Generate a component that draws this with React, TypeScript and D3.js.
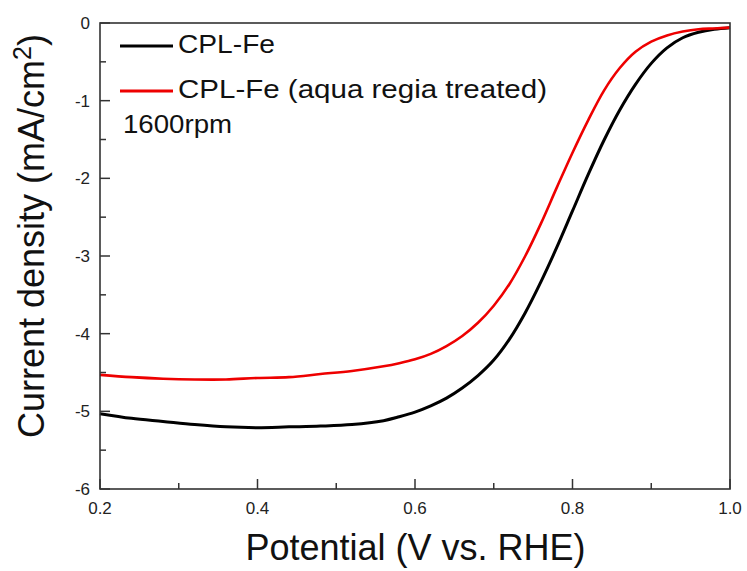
import React from "react";
import * as d3 from "d3";

// potential (V vs. RHE)
const potential = [
  0.2, 0.24, 0.28, 0.32, 0.36, 0.4, 0.44, 0.48, 0.52, 0.56, 0.58, 0.6, 0.62, 0.64, 0.66, 0.68,
  0.7, 0.72, 0.74, 0.76, 0.78, 0.8, 0.82, 0.84, 0.86, 0.88, 0.9, 0.92, 0.94, 0.96, 0.98, 1.0,
];
// CPL-Fe
const cplFe = [
  -5.03, -5.09, -5.13, -5.17, -5.2, -5.21, -5.2, -5.19, -5.17, -5.12, -5.07, -5.01, -4.93, -4.83,
  -4.7, -4.54, -4.34, -4.07, -3.73, -3.33, -2.89, -2.42, -1.95, -1.51, -1.12, -0.79, -0.52, -0.32,
  -0.19, -0.12, -0.08, -0.06,
];
// CPL-Fe (aqua regia treated)
const cplFeTreated = [
  -4.53, -4.56, -4.58, -4.59, -4.59, -4.57, -4.56, -4.52, -4.48, -4.42, -4.38, -4.33, -4.26, -4.16,
  -4.03, -3.86, -3.64, -3.36, -3.0, -2.58, -2.12, -1.67, -1.25, -0.87, -0.58, -0.37, -0.24, -0.16,
  -0.11, -0.08, -0.07, -0.06,
];

const xTicks = [0.2, 0.4, 0.6, 0.8, 1.0];
const xTickLabels = ["0.2", "0.4", "0.6", "0.8", "1.0"];
const xMinor = [0.3, 0.5, 0.7, 0.9];
const yTicks = [0, -1, -2, -3, -4, -5, -6];
const yTickLabels = ["0", "-1", "-2", "-3", "-4", "-5", "-6"];
const yMinor = [-0.5, -1.5, -2.5, -3.5, -4.5, -5.5];

const seriesNames = ["CPL-Fe", "CPL-Fe (aqua regia treated)"];

const W = 747;
const H = 571;
const left = 100, right = 730, top = 23, bottom = 489;
const font = "'Liberation Sans', Arial, sans-serif";
const axisColor = "#333";

export default function App() {
  const x = d3.scaleLinear().domain([0.2, 1.0]).range([left, right]);
  const y = d3.scaleLinear().domain([0, -6]).range([top, bottom]);

  const line = d3
    .line<number>()
    .x((d, i) => x(potential[i]))
    .y((d) => y(d))
    .curve(d3.curveCatmullRom);

  return (
    <svg width={W} height={H} style={{ position: "absolute", left: 0, top: 0, background: "#fff" }} fontFamily={font}>
      {/* curves */}
      <path d={line(cplFe) || ""} fill="none" stroke="#000" strokeWidth={3} />
      <path d={line(cplFeTreated) || ""} fill="none" stroke="#ee0000" strokeWidth={2.6} />

      {/* frame */}
      <rect x={left} y={top} width={right - left} height={bottom - top} fill="none" stroke={axisColor} strokeWidth={1.6} />

      {/* x ticks */}
      {xTicks.map((t, i) => (
        <g key={"xt" + i}>
          <line x1={x(t)} x2={x(t)} y1={bottom} y2={bottom - 10} stroke={axisColor} strokeWidth={1.5} />
          <text x={x(t)} y={514} fontSize={17} textAnchor="middle" fill="#222">
            {xTickLabels[i]}
          </text>
        </g>
      ))}
      {xMinor.map((t, i) => (
        <line key={"xm" + i} x1={x(t)} x2={x(t)} y1={bottom} y2={bottom - 6} stroke={axisColor} strokeWidth={1.5} />
      ))}

      {/* y ticks */}
      {yTicks.map((t, i) => (
        <g key={"yt" + i}>
          <line x1={left} x2={left + 10} y1={y(t)} y2={y(t)} stroke={axisColor} strokeWidth={1.5} />
          <text x={90} y={y(t) + 6} fontSize={17} textAnchor="end" fill="#222">
            {yTickLabels[i]}
          </text>
        </g>
      ))}
      {yMinor.map((t, i) => (
        <line key={"ym" + i} x1={left} x2={left + 6} y1={y(t)} y2={y(t)} stroke={axisColor} strokeWidth={1.5} />
      ))}

      {/* legend */}
      <line x1={120} x2={173} y1={46} y2={46} stroke="#000" strokeWidth={3} />
      <text x={178} y={53} fontSize={26} fill="#111" textLength={97} lengthAdjust="spacingAndGlyphs">
        {seriesNames[0]}
      </text>
      <line x1={120} x2={173} y1={91} y2={91} stroke="#ee0000" strokeWidth={3} />
      <text x={178} y={98} fontSize={26} fill="#111" textLength={369} lengthAdjust="spacingAndGlyphs">
        {seriesNames[1]}
      </text>
      <text x={123} y={133} fontSize={26} fill="#111" textLength={109} lengthAdjust="spacingAndGlyphs">
        1600rpm
      </text>

      {/* axis titles */}
      <text x={(243 + 588) / 2} y={560} fontSize={36} textAnchor="middle" fill="#111">
        Potential (V vs. RHE)
      </text>
      <text transform={`translate(44, 236) rotate(-90)`} fontSize={36} textAnchor="middle" fill="#111">
        Current density (mA/cm
        <tspan fontSize={25} dy={-13}>2</tspan>
        <tspan dy={13}>)</tspan>
      </text>
    </svg>
  );
}
